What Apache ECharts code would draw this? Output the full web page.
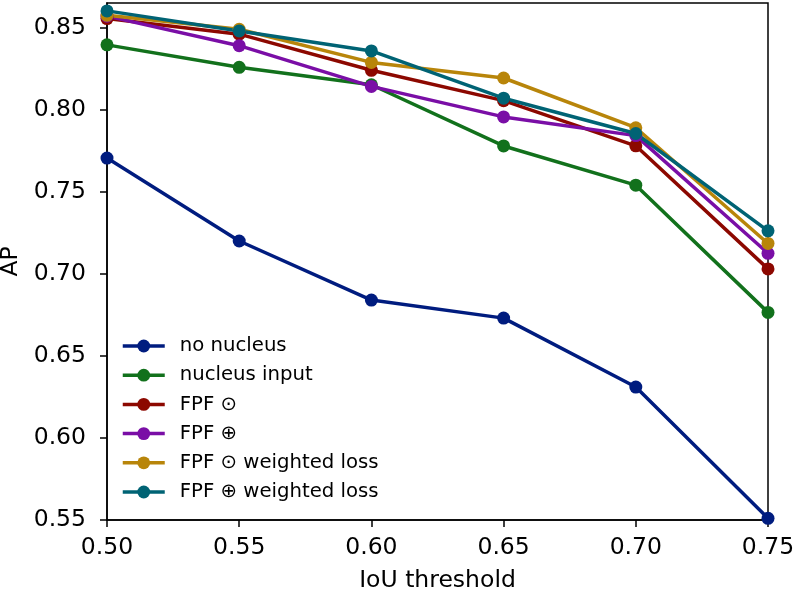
<!DOCTYPE html>
<html>
<head>
<meta charset="utf-8">
<script src="https://cdn.jsdelivr.net/npm/echarts@6/dist/echarts.min.js"></script>
<style>
html,body{margin:0;padding:0;background:#fff;}
#chart{width:796px;height:592px;}
</style>
</head>
<body>
<div id="chart"></div>
<script>
const thresholds = [0.50, 0.55, 0.60, 0.65, 0.70, 0.75];
const seriesNames = ['no nucleus', 'nucleus input', 'FPF \u2299', 'FPF \u2295', 'FPF \u2299 weighted loss', 'FPF \u2295 weighted loss'];
const noNucleus = [0.7705, 0.7200, 0.6840, 0.6730, 0.6310, 0.5510];
const nucleusInput = [0.8395, 0.8258, 0.8152, 0.7779, 0.7540, 0.6765];
const fpfDot = [0.8555, 0.8460, 0.8240, 0.8055, 0.7780, 0.7030];
const fpfPlus = [0.8570, 0.8390, 0.8142, 0.7956, 0.7842, 0.7125];
const fpfDotWeighted = [0.8575, 0.8490, 0.8288, 0.8193, 0.7890, 0.7185];
const fpfPlusWeighted = [0.8602, 0.8480, 0.8358, 0.8070, 0.7855, 0.7262];
const yTicks = [0.55, 0.60, 0.65, 0.70, 0.75, 0.80, 0.85];
const xTicks = [0.50, 0.55, 0.60, 0.65, 0.70, 0.75];

const colors = ['#001c7f', '#12711c', '#8c0800', '#7a0ea6', '#b8850a', '#006374'];
const allValues = [noNucleus, nucleusInput, fpfDot, fpfPlus, fpfDotWeighted, fpfPlusWeighted];

const font = 'DejaVu Sans';
const chart = echarts.init(document.getElementById('chart'), null, {renderer: 'canvas'});
const series = allValues.map((vals, i) => ({
  name: seriesNames[i],
  type: 'line',
  data: thresholds.map((t, j) => [t, vals[j]]),
  symbol: 'circle',
  symbolSize: 13,
  showSymbol: true,
  lineStyle: {width: 3.5, color: colors[i]},
  itemStyle: {color: colors[i]},
  emphasis: {disabled: true},
  animation: false,
  clip: false
}));

chart.setOption({
  animation: false,
  color: colors,
  grid: {left: 107, right: 28, top: 3, bottom: 72, containLabel: false, outerBoundsMode: 'none', show: true, borderColor: '#000', borderWidth: 1.5, backgroundColor: 'transparent'},
  legend: {
    orient: 'vertical',
    left: 116,
    top: 331,
    itemWidth: 42,
    itemHeight: 16,
    itemGap: 9.2,
    lineStyle: {width: 3.5},
    textStyle: {fontFamily: font, fontSize: 19.7, color: '#000', padding: [0, 0, 0, 10]},
    data: seriesNames
  },
  xAxis: {
    type: 'value',
    min: 0.50,
    max: 0.75,
    interval: 0.05,
    name: 'IoU threshold',
    nameLocation: 'middle',
    nameGap: 49,
    nameTextStyle: {fontFamily: font, fontSize: 23.5, color: '#000'},
    axisLine: {show: true, lineStyle: {color: '#000', width: 1.5}},
    axisTick: {show: true, length: 7, lineStyle: {color: '#000', width: 1.5}, customValues: xTicks},
    axisLabel: {fontFamily: font, fontSize: 23.5, color: '#000', margin: 16, customValues: xTicks, formatter: v => v.toFixed(2)},
    splitLine: {show: false}
  },
  yAxis: {
    type: 'value',
    min: 0.55,
    max: 0.865,
    interval: 0.05,
    name: 'AP',
    nameLocation: 'middle',
    nameGap: 77,
    nameTextStyle: {fontFamily: font, fontSize: 23.5, color: '#000'},
    axisLine: {show: true, lineStyle: {color: '#000', width: 1.5}},
    axisTick: {show: true, length: 7, lineStyle: {color: '#000', width: 1.5}, customValues: yTicks},
    axisLabel: {fontFamily: font, fontSize: 23.5, color: '#000', margin: 21, customValues: yTicks, formatter: v => v.toFixed(2)},
    splitLine: {show: false}
  },
  series: series
});
</script>
</body>
</html>
